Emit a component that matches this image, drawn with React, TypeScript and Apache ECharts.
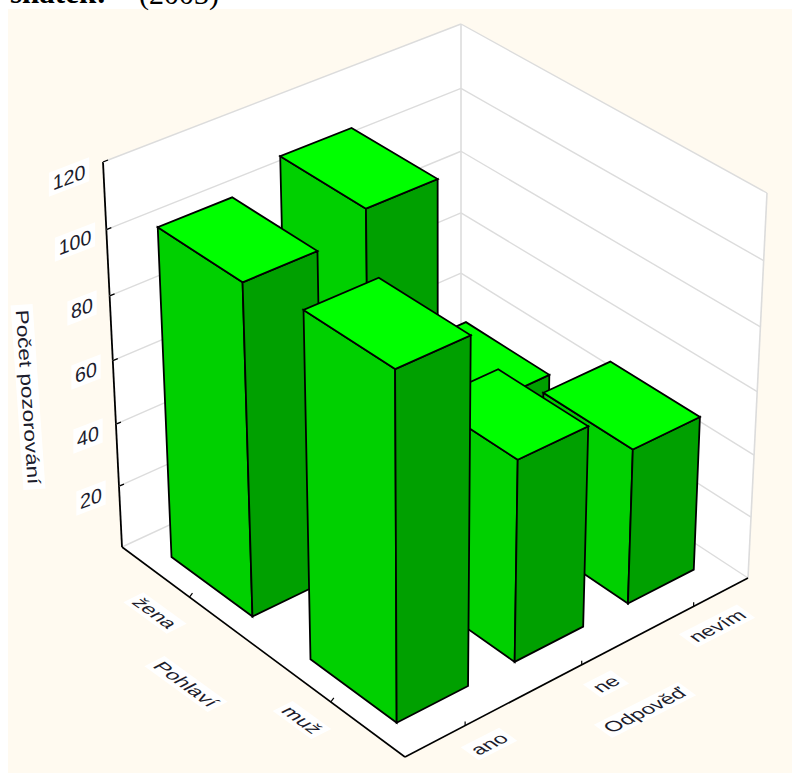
import React, { useEffect, useRef } from "react";
import * as echarts from "echarts";

const answers = ["ano", "ne", "nevím"];
const genders = ["žena", "muž"];
const zenaValues = [103.5, 110, 33];
const muzValues = [107, 63.5, 49.5];
const yTicks = [20, 40, 60, 80, 100, 120];
const yMax = 120;

type P = [number, number];
const FLOOR: P[] = [[405, 757], [748, 578], [461, 390], [122, 547]];
const TOP: P[] = [[404, 355], [767, 193], [461, 24], [103, 162]];
const PERSP = 1.066;
const BAR_A = 0.6;
const BAR_G = 0.59;
const SHIFT_A = -0.005;
const GRID_W = 300, GRID_H = 300;

function homography(q: P[]) {
  const [p0, p1, p2, p3] = q;
  const dx1 = p1[0] - p2[0], dx2 = p3[0] - p2[0], sx = p0[0] - p1[0] + p2[0] - p3[0];
  const dy1 = p1[1] - p2[1], dy2 = p3[1] - p2[1], sy = p0[1] - p1[1] + p2[1] - p3[1];
  const d = dx1 * dy2 - dx2 * dy1;
  const g = (sx * dy2 - dx2 * sy) / d, h = (dx1 * sy - sx * dy1) / d;
  const A = p1[0] - p0[0] + g * p1[0], B = p3[0] - p0[0] + h * p3[0];
  const D = p1[1] - p0[1] + g * p1[1], E = p3[1] - p0[1] + h * p3[1];
  return (u: number, v: number): P => {
    const w = g * u + h * v + 1;
    return [(A * u + B * v + p0[0]) / w, (D * u + E * v + p0[1]) / w];
  };
}
const hFloor = homography(FLOOR);
const hTop = homography(TOP);
function project(a: number, g: number, z: number): P {
  const b = hFloor(a, g), t = hTop(a, g);
  const s = z / (z + (1 - z) * PERSP);
  return [b[0] + (t[0] - b[0]) * s, b[1] + (t[1] - b[1]) * s];
}

const barData: number[][] = [];
[0, 1].forEach((g) => {
  const vals = g === 0 ? zenaValues : muzValues;
  [2, 1, 0].forEach((i) => barData.push([i, g, vals[i]]));
});

const poly = (points: P[], fill: string) => ({
  type: "polygon",
  shape: { points },
  style: { fill, stroke: "#000", lineWidth: 1.8, lineJoin: "miter" },
});

const renderBar = (_p: any, api: any) => {
  const c = api.coord([api.value(0), api.value(2)]);
  const ac = c[0] / GRID_W + SHIFT_A;
  const z = 1 - c[1] / GRID_H;
  const gc = echarts.number.linearMap(api.value(1), [-0.5, 1.5], [1, 0]);
  const a0 = ac - BAR_A / 6, a1 = ac + BAR_A / 6;
  const g0 = gc - BAR_G / 4, g1 = gc + BAR_G / 4;
  const pr = (a: number, g: number, zz: number) => project(a, g, zz);
  return {
    type: "group",
    children: [
      poly([pr(a0, g0, 0), pr(a0, g1, 0), pr(a0, g1, z), pr(a0, g0, z)], "#00D000"),
      poly([pr(a0, g0, 0), pr(a1, g0, 0), pr(a1, g0, z), pr(a0, g0, z)], "#00A000"),
      poly([pr(a0, g0, z), pr(a1, g0, z), pr(a1, g1, z), pr(a0, g1, z)], "#00FF00"),
    ],
  };
};

const line = (a: P, b: P, stroke: string, lineWidth = 1.4) => ({
  type: "line",
  shape: { x1: a[0], y1: a[1], x2: b[0], y2: b[1] },
  style: { stroke, lineWidth },
});

const renderLevel = (_p: any, api: any) => {
  const c = api.coord([0, api.value(0)]);
  const z = 1 - c[1] / GRID_H;
  const grey = "#DCDCDC";
  const l = project(0, 1, z), b = project(1, 1, z), r = project(1, 0, z);
  return {
    type: "group",
    children: [line(l, b, grey), line(b, r, grey), line(l, [l[0] + 5, l[1] - 2], "#000", 1.2)],
  };
};

const renderFrame = () => {
  const f0 = project(0, 0, 0), r0 = project(1, 0, 0), b0 = project(1, 1, 0), l0 = project(0, 1, 0);
  const l1 = project(0, 1, 1), b1 = project(1, 1, 1), r1 = project(1, 0, 1);
  const grey = "#DCDCDC";
  const children: any[] = [
    { type: "polygon", shape: { points: [f0, r0, r1, b1, l1, l0] }, style: { fill: "#fff" } },
    line(b0, b1, grey, 1.6),
    line(r0, r1, grey, 1.6),
    line(l0, b0, grey),
    line(b0, r0, grey),
    line(l0, l1, "#000", 1.8),
    line(l0, f0, "#000", 1.6),
    line(f0, r0, "#000", 1.6),
  ];
  [1, 0].forEach((i) => {
    const g = echarts.number.linearMap(i, [-0.5, 1.5], [1, 0]);
    const p = project(0, g, 0);
    children.push(line(p, [p[0] + 3, p[1] - 4], "#000", 1.2));
  });
  [0, 1, 2].forEach((i) => {
    const p = project((i + 0.5) / 3, 0, 0);
    children.push(line(p, [p[0], p[1] - 4], "#000", 1.2));
  });
  return { type: "group", children };
};

const FONT = '"Liberation Sans", Arial, sans-serif';
const rad = (d: number) => (d * Math.PI) / 180;
const label = (
  text: string, x: number, y: number, rot: number, skew: number, size = 18, scaleX = 1, scaleY = 1,
) => ({
  type: "text",
  x, y,
  rotation: rad(rot),
  skewX: rad(skew),
  scaleX,
  scaleY,
  z: 5,
  style: {
    text, fill: "#1c1c2c", font: `${size}px ${FONT}`,
    align: "center", verticalAlign: "middle",
    backgroundColor: "#FFFFFF", padding: [2, 4],
  },
});

const yLabelPos: P[] = [[91, 498], [88, 436], [86, 372], [82, 308], [75, 242], [69, 177]];

export default function App() {
  const ref = useRef<HTMLDivElement>(null);
  useEffect(() => {
    document.body.style.margin = "0";
    const chart = echarts.init(ref.current!, undefined, { renderer: "svg" });
    chart.setOption({
      animation: false,
      backgroundColor: "#fff",
      grid: { left: 0, top: 0, width: GRID_W, height: GRID_H, show: false },
      xAxis: { type: "category", data: answers, show: false },
      yAxis: { type: "value", min: 0, max: yMax, interval: 20, show: false },
      graphic: [
        { type: "rect", z: -10, shape: { x: 8, y: 9, width: 784, height: 764 }, style: { fill: "#FFFAF0" } },
        {
          type: "text", x: 10, y: 8, z: 5,
          style: { text: "snatek:", fill: "#000", font: `bold 31px "Liberation Serif", serif`, verticalAlign: "bottom" },
        },
        {
          type: "text", x: 139, y: 8, z: 5,
          style: { text: "(2003)", fill: "#000", font: `30px "Liberation Serif", serif`, verticalAlign: "bottom" },
        },
        ...yTicks.map((t, i) => label(String(t), yLabelPos[i][0], yLabelPos[i][1], 21, -21, 21, 1, 0.9)),
        label("Počet pozorování", 28, 397, -86, 0, 18, 1.25),
        label(genders[0], 155, 613, -36, -27, 21, 1, 0.8),
        label("Pohlaví", 186, 684, -36, -27, 21, 1, 0.8),
        label(genders[1], 302, 720, -36, -27, 21, 1, 0.8),
        label(answers[0], 489, 744, 27, 27, 21, 1, 0.8),
        label(answers[1], 606, 684, 27, 27, 21, 1, 0.8),
        label(answers[2], 717, 626, 27, 27, 21, 1, 0.8),
        label("Odpověď", 645, 710, 27, 27, 21, 1, 0.8),
      ],
      series: [
        { type: "custom", z: 1, silent: true, clip: false, data: [[0]], renderItem: renderFrame },
        { type: "custom", z: 2, silent: true, clip: false, encode: { y: 0 }, data: yTicks.map((t) => [t]), renderItem: renderLevel },
        {
          type: "custom", z: 3, silent: true, clip: false, name: "Počet pozorování",
          encode: { x: 0, y: 2 }, data: barData, renderItem: renderBar,
        },
      ],
    });
    return () => chart.dispose();
  }, []);
  return <div ref={ref} style={{ position: "absolute", left: 0, top: 0, width: 792, height: 773 }} />;
}
